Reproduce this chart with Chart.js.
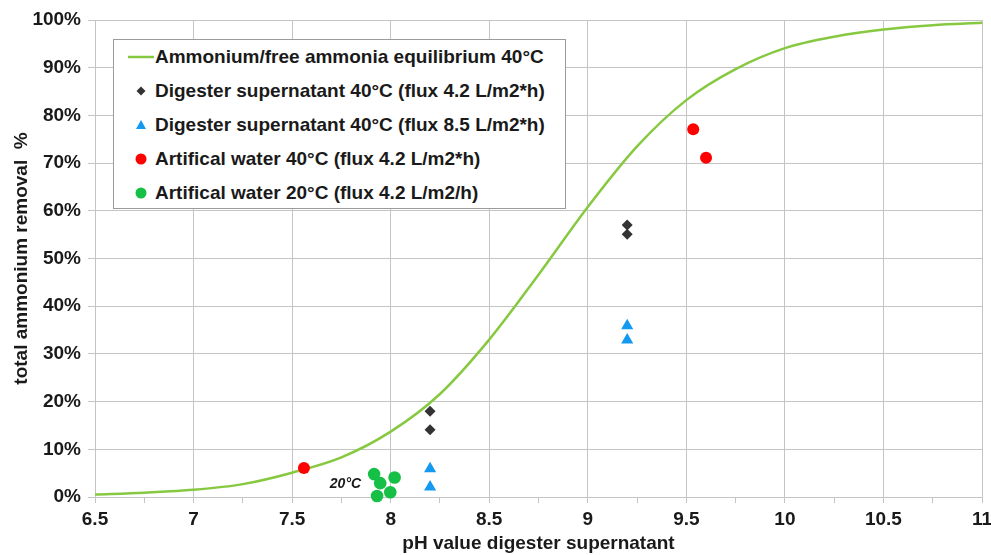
<!DOCTYPE html>
<html>
<head>
<meta charset="utf-8">
<title>Total ammonium removal vs pH</title>
<script src="https://cdn.jsdelivr.net/npm/chart.js@4.4.1/dist/chart.umd.min.js"></script>
<style>
    html, body { margin: 0; padding: 0; background: #fff; overflow: hidden; }
    #wrap { position: relative; width: 991px; height: 555px; }
    #chart { display: block; }
    #legend {
        position: absolute; left: 113px; top: 39px;
        width: 453px; height: 170px; box-sizing: border-box;
        border: 1px solid #9b9b9b; background: #fff;
        font: bold 19px "Liberation Sans", Arial, sans-serif; color: #1a1a1a;
    }
    #legend .row { height: 34px; display: flex; align-items: center; white-space: nowrap; }
    #legend svg { flex: none; }
</style>
</head>
<body>
<div id="wrap">
    <canvas id="chart" width="991" height="555"></canvas>
    <div id="legend"></div>
</div>
<script>
// ===============================
// Datos
// ===============================
const phMajor = [6.5, 7, 7.5, 8, 8.5, 9, 9.5, 10, 10.5, 11];
const phMinor = [6.75, 7.25, 7.75, 8.25, 8.75, 9.25, 9.75, 10.25, 10.75];
const removalTicks = [0, 10, 20, 30, 40, 50, 60, 70, 80, 90, 100];

// curva de equilibrio NH4+/NH3 a 40°C
const curvePH      = [6.5, 6.75, 7, 7.25, 7.5, 7.75, 8, 8.25, 8.5, 8.75, 9, 9.25, 9.5, 9.75, 10, 10.25, 10.5, 10.75, 11];
const curveRemoval = [0.5, 0.9, 1.5, 2.7, 5.1, 8.3, 13.7, 21.6, 33.0, 46.6, 60.8, 73.5, 83.2, 89.7, 94.1, 96.5, 98.0, 98.9, 99.4];

const dig42PH      = [8.2, 8.2, 9.2, 9.2];
const dig42Removal = [18, 14.1, 57, 55.1];

const dig85PH      = [8.2, 8.2, 9.2, 9.2];
const dig85Removal = [5.9, 2.1, 35.9, 32.9];

const art40PH      = [7.56, 9.535, 9.6];
const art40Removal = [6.1, 77.1, 71.1];

const art20PH      = [7.916, 7.947, 8.02, 7.931, 7.998];
const art20Removal = [4.8, 2.9, 4.1, 0.2, 1.0];

const note20 = { x: 7.85, y: 2.7, text: '20°C' };

// ===============================
// Config
// ===============================
const gridGray = '#c4c4c4';
const colors = {
    line: '#86c941',
    dark: '#333333',
    blue: '#1399ef',
    red: '#ff0000',
    green: '#16bf45'
};

const toXY = (xs, ys) => xs.map((x, i) => ({ x: x, y: ys[i] }));

Chart.defaults.font.family = '"Liberation Sans", Arial, sans-serif';
Chart.defaults.color = '#1a1a1a';

// etiqueta "20°C" junto a los puntos verdes
const notePlugin = {
    id: 'note20',
    afterDatasetsDraw(chart) {
        const { ctx, scales } = chart;
        ctx.save();
        ctx.font = 'italic bold 14px "Liberation Sans", Arial, sans-serif';
        ctx.fillStyle = '#1a1a1a';
        ctx.textAlign = 'right';
        ctx.textBaseline = 'middle';
        ctx.fillText(note20.text, scales.x.getPixelForValue(note20.x), scales.y.getPixelForValue(note20.y));
        ctx.restore();
    }
};

const chart = new Chart(document.getElementById('chart'), {
    type: 'scatter',
    data: {
        datasets: [
            {
                type: 'line',
                label: 'Ammonium/free ammonia equilibrium 40°C',
                data: toXY(curvePH, curveRemoval),
                borderColor: colors.line,
                borderWidth: 2.5,
                pointRadius: 0,
                cubicInterpolationMode: 'monotone',
                fill: false,
                order: 10,
                marker: 'line'
            },
            {
                label: 'Digester supernatant 40°C (flux 4.2 L/m2*h)',
                data: toXY(dig42PH, dig42Removal),
                backgroundColor: colors.dark,
                pointStyle: 'rectRot',
                pointRadius: 5.5,
                pointBorderWidth: 0,
                clip: false,
                marker: 'diamond'
            },
            {
                label: 'Digester supernatant 40°C (flux 8.5 L/m2*h)',
                data: toXY(dig85PH, dig85Removal),
                backgroundColor: colors.blue,
                pointStyle: 'triangle',
                pointRadius: 7,
                pointBorderWidth: 0,
                clip: false,
                marker: 'triangle'
            },
            {
                label: 'Artifical water 40°C (flux 4.2 L/m2*h)',
                data: toXY(art40PH, art40Removal),
                backgroundColor: colors.red,
                pointStyle: 'circle',
                pointRadius: 6,
                pointBorderWidth: 0,
                clip: false,
                marker: 'circle'
            },
            {
                label: 'Artifical water 20°C (flux 4.2 L/m2/h)',
                data: toXY(art20PH, art20Removal),
                backgroundColor: colors.green,
                pointStyle: 'circle',
                pointRadius: 6.3,
                pointBorderWidth: 0,
                clip: false,
                marker: 'circle'
            }
        ]
    },
    options: {
        responsive: false,
        animation: false,
        events: [],
        layout: { padding: { top: 20, right: 9, bottom: 0, left: 0 } },
        plugins: {
            legend: { display: false },
            tooltip: { enabled: false }
        },
        scales: {
            x: {
                type: 'linear',
                min: 6.5,
                max: 11,
                afterBuildTicks: scale => {
                    scale.ticks = phMajor.concat(phMinor).sort((a, b) => a - b).map(v => ({ value: v }));
                },
                afterFit: scale => {
                    scale.height = 58;
                    // el "11" puede salirse un poco por la derecha, como en el original
                    scale.paddingRight = 0;
                },
                ticks: {
                    autoSkip: false,
                    maxRotation: 0,
                    padding: 5,
                    font: { size: 19, weight: 'bold' },
                    callback: v => phMajor.includes(v) ? String(v) : ''
                },
                grid: {
                    color: c => (c.tick && phMajor.includes(c.tick.value)) ? gridGray : 'rgba(0,0,0,0)',
                    tickColor: gridGray,
                    tickLength: 6,
                    lineWidth: 1
                },
                border: { color: gridGray },
                title: {
                    display: true,
                    text: 'pH value digester supernatant',
                    font: { size: 19, weight: 'bold' },
                    padding: { top: 0, bottom: 0 }
                }
            },
            y: {
                min: 0,
                max: 100,
                afterBuildTicks: scale => {
                    scale.ticks = removalTicks.map(v => ({ value: v }));
                },
                afterFit: scale => { scale.width = 95; },
                ticks: {
                    padding: 7,
                    font: { size: 19, weight: 'bold' },
                    callback: v => v + '%'
                },
                grid: { color: gridGray, tickLength: 7, lineWidth: 1 },
                border: { color: gridGray },
                title: {
                    display: true,
                    text: 'total ammonium removal  %',
                    font: { size: 19, weight: 'bold' },
                    padding: { top: 10, bottom: 0 }
                }
            }
        }
    },
    plugins: [notePlugin]
});

// ===============================
// Leyenda HTML (dentro del area)
// ===============================
function markerSvg(ds) {
    const c = ds.backgroundColor || ds.borderColor;
    let shape = '';
    if (ds.marker === 'line') shape = `<line x1="14" y1="17" x2="40" y2="17" stroke="${ds.borderColor}" stroke-width="2.5"/>`;
    if (ds.marker === 'diamond') shape = `<polygon points="27,12.5 31.5,17 27,21.5 22.5,17" fill="${c}"/>`;
    if (ds.marker === 'triangle') shape = `<polygon points="27,12 32,21 22,21" fill="${c}"/>`;
    if (ds.marker === 'circle') shape = `<circle cx="27" cy="17" r="5.5" fill="${c}"/>`;
    return `<svg width="41" height="34" viewBox="0 0 41 34">${shape}</svg>`;
}

const legendEl = document.getElementById('legend');
legendEl.innerHTML = chart.data.datasets.map(ds =>
    `<div class="row">${markerSvg(ds)}<span>${ds.label}</span></div>`
).join('');
</script>
</body>
</html>
